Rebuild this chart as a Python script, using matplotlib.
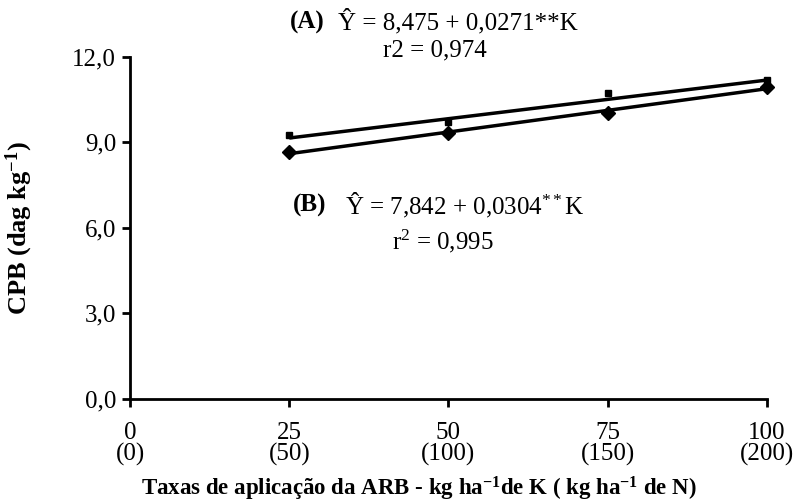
import numpy as np
import matplotlib
matplotlib.use("Agg")
import matplotlib.pyplot as plt

plt.rcParams['font.family'] = ['Liberation Serif', 'DejaVu Serif']
plt.rcParams['mathtext.fontset'] = 'custom'
plt.rcParams['mathtext.rm'] = 'Liberation Serif'
plt.rcParams['mathtext.it'] = 'Liberation Serif:italic'
plt.rcParams['mathtext.bf'] = 'Liberation Serif:bold'

# data
doses_k = [25, 50, 75, 100]
cpb_a = [9.26, 9.72, 10.74, 11.19]   # squares (A)
cpb_b = [8.67, 9.33, 10.04, 10.95]   # diamonds (B)
coef_a = [8.475, 0.0271]
coef_b = [7.842, 0.0304]
xticks = [0, 25, 50, 75, 100]
xtick_labels = ['0\n(0)', '25\n(50)', '50\n(100)', '75\n(150)', '100\n(200)']
yticks = [0, 3, 6, 9, 12]
ytick_labels = ['0,0', '3,0', '6,0', '9,0', '12,0']

fs = 18

fig = plt.figure(figsize=(7.98, 5.03), dpi=100)
ax = fig.add_axes([0.163, 0.207, 0.798, 0.68])

xfit = np.array([doses_k[0], doses_k[-1]])
ax.plot(xfit, coef_a[0] + coef_a[1] * xfit, color='black', lw=2.5, solid_capstyle='butt')
ax.plot(xfit, coef_b[0] + coef_b[1] * xfit, color='black', lw=2.5, solid_capstyle='butt')
ax.plot(doses_k, cpb_a, ls='none', marker='s', ms=5, color='black', clip_on=False)
ax.plot(doses_k, cpb_b, ls='none', marker='D', ms=7, color='black', clip_on=False)

ax.set_xlim(0, 100)
ax.set_ylim(0, 12)
ax.set_xticks(xticks)
ax.set_xticklabels(xtick_labels, fontsize=fs, linespacing=0.92)
ax.set_yticks(yticks)
ax.set_yticklabels(ytick_labels, fontsize=fs)
ax.tick_params(axis='both', direction='out', length=6, width=2)
ax.tick_params(axis='x', pad=11)
ax.tick_params(axis='y', pad=4)
for s in ['top', 'right']:
    ax.spines[s].set_visible(False)
for s in ['left', 'bottom']:
    ax.spines[s].set_linewidth(2)

ax.set_ylabel(r'CPB (dag kg$^{\mathbf{-1}}$)', fontsize=19, fontweight='bold')
ax.yaxis.set_label_coords(-0.15, 0.5)
ax.set_xlabel(r'Taxas de aplicação da ARB - kg ha$^{\mathbf{-1}}$de K ( kg ha$^{\mathbf{-1}}$ de N)',
              fontsize=16.5, fontweight='bold', va='center')
ax.xaxis.set_label_coords(0.454, -(489 - 399) / 342)

# equations
fig.text(290 / 798, 1 - 22 / 503, '(A)', fontsize=fs, fontweight='bold', va='center')
fig.text(338 / 798, 1 - 22 / 503, 'Ŷ = 8,475 + 0,0271**K', fontsize=fs, va='center')
fig.text(435 / 798, 1 - 50 / 503, 'r2 = 0,974', fontsize=fs, va='center', ha='center')
fig.text(293 / 798, 1 - 205 / 503, '(B)', fontsize=fs, fontweight='bold', va='center')
fig.text(345 / 798, 1 - 205 / 503, r'Ŷ = 7,842 + 0,0304$^{**}$K', fontsize=fs, va='center')
fig.text(443 / 798, 1 - 241 / 503, r'r$^2$ = 0,995', fontsize=fs, va='center', ha='center')

fig.savefig('out.png', dpi=100)
